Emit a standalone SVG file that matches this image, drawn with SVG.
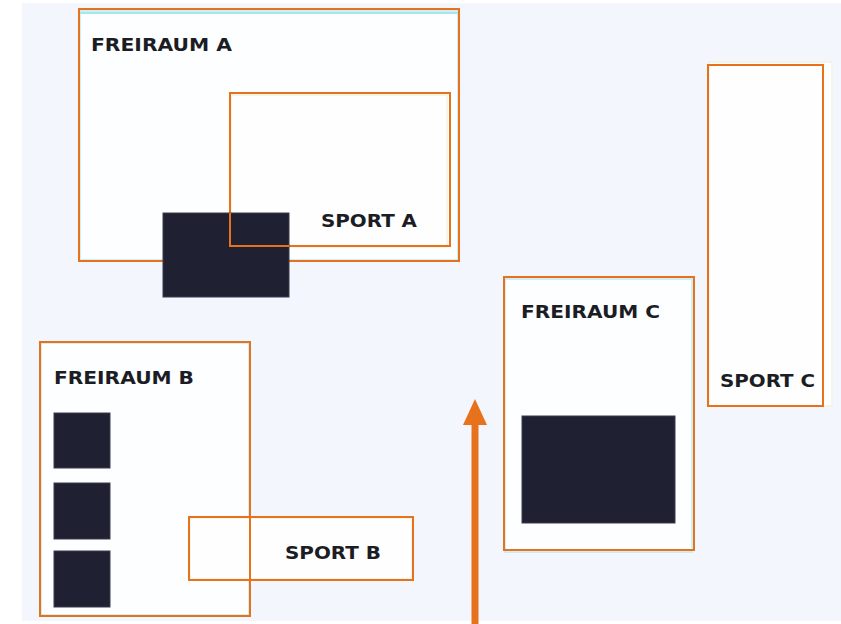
<svg xmlns="http://www.w3.org/2000/svg" width="841" height="624" viewBox="0 0 841 624">
  <style>
    .frame { fill: none; stroke: #e8711c; stroke-width: 2; }
    .panel-f { fill: #fcfeff; stroke: #bfeaf0; stroke-width: 1.5; }
    .panel-s { fill: #fdfefd; stroke: #f1f4df; stroke-width: 1.5; }
    .block { fill: #1f2132; stroke: #3a3c4c; stroke-width: 1; }
    .label { font-family: "DejaVu Sans", Verdana, sans-serif; font-weight: bold; font-size: 17px; fill: #1c1d24; }
    .arrow { stroke: #e8711c; stroke-width: 7; fill: none; }
  </style>

  <!-- page -->
  <rect x="0" y="0" width="841" height="624" fill="#ffffff"/>
  <rect x="22" y="3" width="819" height="618" fill="#f3f6fd"/>

  <!-- Freiraum A -->
  <g id="freiraum-a">
    <rect class="panel-f" x="80" y="11" width="378" height="249"/>
    <line x1="80" y1="13" x2="458" y2="13" stroke="#a6e6ee" stroke-width="2"/>
    <rect class="frame" x="79" y="9" width="380" height="252"/>
    <text class="label" x="91" y="51" textLength="141" lengthAdjust="spacingAndGlyphs">FREIRAUM A</text>
  </g>

  <!-- Sport A -->
  <g id="sport-a">
    <rect class="panel-s" x="231" y="95" width="216" height="152"/>
    <rect class="frame" x="230" y="93" width="220" height="153"/>
    <text class="label" x="321" y="227" textLength="96" lengthAdjust="spacingAndGlyphs">SPORT A</text>
  </g>

  <!-- building in Freiraum A -->
  <g id="bau-a">
    <rect class="block" x="163" y="213" width="126" height="84"/>
  </g>
  <!-- Sport A frame drawn over the building edge -->
  <path class="frame" d="M230,213 V246 H289"/>

  <!-- Freiraum B -->
  <g id="freiraum-b">
    <rect class="panel-f" x="41" y="343" width="208" height="272"/>
    <rect class="frame" x="40" y="342" width="210" height="274"/>
    <text class="label" x="54" y="384" textLength="140" lengthAdjust="spacingAndGlyphs">FREIRAUM B</text>
    <rect class="block" x="54" y="413" width="56" height="55"/>
    <rect class="block" x="54" y="483" width="56" height="56"/>
    <rect class="block" x="54" y="551" width="56" height="56"/>
  </g>

  <!-- Sport B -->
  <g id="sport-b">
    <rect class="panel-s" x="190" y="518" width="222" height="61"/>
    <rect class="frame" x="189" y="517" width="224" height="63"/>
    <text class="label" x="285" y="559" textLength="96" lengthAdjust="spacingAndGlyphs">SPORT B</text>
  </g>
  <!-- Freiraum B edge stays visible across Sport B -->
  <line class="frame" x1="250" y1="517" x2="250" y2="580"/>

  <!-- Freiraum C -->
  <g id="freiraum-c">
    <rect class="panel-f" x="505" y="279" width="187" height="273"/>
    <rect class="frame" x="504" y="277" width="190" height="273"/>
    <text class="label" x="521" y="318" textLength="139" lengthAdjust="spacingAndGlyphs">FREIRAUM C</text>
    <rect class="block" x="522" y="416" width="153" height="107"/>
  </g>

  <!-- Sport C -->
  <g id="sport-c">
    <rect class="panel-s" x="709" y="62" width="123" height="344"/>
    <rect class="frame" x="708" y="65" width="115" height="341"/>
    <text class="label" x="720" y="387" textLength="95" lengthAdjust="spacingAndGlyphs">SPORT C</text>
  </g>

  <!-- connectors -->
  <g id="connectors">
    <line class="arrow" x1="475" y1="624" x2="475" y2="424"/>
    <path d="M463,425 L475,399 L487,425 Z" fill="#e8711c"/>
  </g>
</svg>
